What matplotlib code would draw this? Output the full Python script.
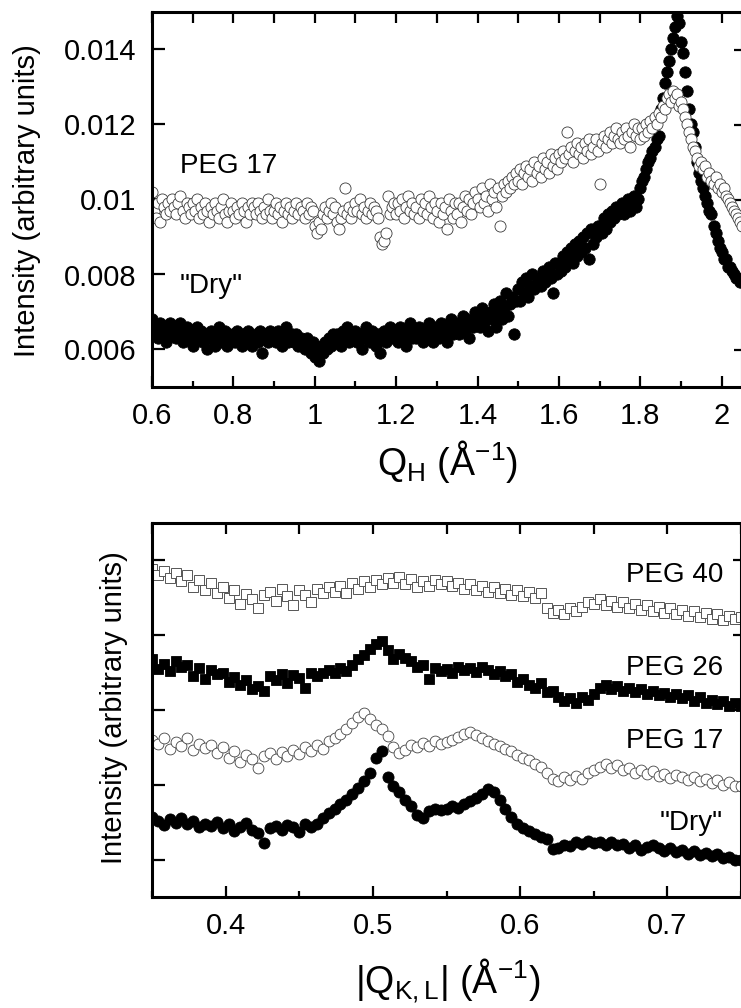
import numpy as np
import matplotlib
matplotlib.use("Agg")
import matplotlib.pyplot as plt
from matplotlib.ticker import MultipleLocator, FixedLocator, FuncFormatter, NullFormatter

plt.rcParams['font.family'] = ['Liberation Sans', 'DejaVu Sans']
plt.rcParams['mathtext.fontset'] = 'custom'
plt.rcParams['mathtext.rm'] = 'Liberation Sans'
plt.rcParams['mathtext.it'] = 'Liberation Sans:italic'

# ---- top panel data: intensity vs Q_H, step 0.005 from 0.60 to 2.05 (units of 1e-4)
dry_top = [
    68, 65, 66, 63, 67, 64, 66, 62, 65, 67,
    64, 66, 63, 65, 67, 62, 64, 66, 63, 65,
    61, 64, 66, 63, 65, 62, 64, 60, 63, 65,
    63, 61, 64, 66, 62, 63, 65, 61, 64, 62,
    64, 62, 65, 63, 61, 64, 62, 65, 63, 61,
    63, 64, 62, 65, 59, 63, 64, 62, 65, 63,
    64, 62, 65, 63, 61, 64, 66, 62, 63, 64,
    62, 64, 61, 63, 62, 60, 63, 61, 59, 62,
    58, 60, 57, 61, 59, 62, 60, 63, 61, 64,
    62, 64, 63, 61, 65, 63, 66, 62, 64, 63,
    65, 62, 64, 60, 63, 66, 64, 62, 65, 63,
    61, 64, 59, 63, 65, 62, 64, 66, 63, 65,
    64, 62, 66, 63, 65, 61, 64, 67, 63, 65,
    63, 66, 64, 62, 65, 63, 67, 64, 62, 66,
    65, 63, 67, 64, 66, 62, 65, 68, 64, 66,
    67, 64, 66, 69, 65, 68, 63, 67, 66, 70,
    68, 66, 71, 67, 69, 65, 70, 68, 72, 66,
    70, 73, 68, 71, 75, 69, 72, 74, 64, 73,
    76, 73, 78, 75, 79, 74, 77, 80, 76, 78,
    79, 77, 81, 78, 80, 82, 79, 75, 83, 80,
    83, 81, 85, 82, 86, 84, 87, 83, 88, 85,
    89, 86, 90, 87, 91, 84, 92, 88, 90, 93,
    93, 91, 95, 92, 96, 94, 97, 95, 98, 96,
    97, 99, 96, 98, 100, 97, 99, 101, 98, 100,
    103, 105, 106, 108, 110, 111, 113, 114, 116, 117,
    124, 127, 131, 134, 137, 140, 143, 146, 149, 147,
    142, 139, 134, 129, 124, 120, 118, 114, 110, 107,
    105, 103, 101, 99, 97, 96, 93, 91, 89, 87,
    86, 84, 84, 82, 82, 81, 80, 79, 79, 78,
    78,
]
peg17_top = [
    102, 97, 95, 99, 94, 100, 98, 96, 99, 97,
    100, 98, 96, 99, 101, 97, 95, 99, 98, 96,
    99, 97, 100, 95, 98, 96, 99, 97, 94, 98,
    96, 99, 97, 95, 98, 100, 96, 94, 97, 99,
    97, 95, 98, 96, 99, 97, 94, 98, 96, 99,
    98, 96, 99, 97, 95, 98, 96, 100, 97, 95,
    97, 99, 96, 98, 94, 97, 99, 96, 98, 95,
    97, 99, 96, 98, 97, 95, 99, 96, 98, 97,
    93, 91, 94, 92, 96, 98, 95, 97, 99, 96,
    98, 94, 92, 95, 97, 103, 96, 98, 95, 97,
    99, 97, 100, 96, 98, 95, 97, 99, 96, 98,
    97, 95, 90, 88, 89, 91, 101, 96, 98, 99,
    96, 99, 97, 100, 95, 98, 101, 97, 99, 96,
    98, 95, 100, 97, 99, 96, 101, 98, 95, 99,
    97, 94, 99, 96, 98, 92, 100, 97, 95, 99,
    96, 99, 94, 98, 101, 97, 100, 96, 99, 102,
    100, 98, 103, 99, 101, 97, 104, 100, 102, 98,
    103, 93, 101, 104, 102, 105, 103, 106, 104, 107,
    105, 108, 104, 107, 109, 106, 108, 105, 110, 107,
    109, 106, 111, 108, 110, 107, 112, 109, 111, 108,
    112, 110, 113, 111, 118, 112, 114, 110, 113, 115,
    112, 114, 111, 115, 113, 116, 112, 114, 116, 113,
    104, 115, 117, 114, 116, 118, 115, 117, 119, 116,
    115, 118, 116, 119, 117, 114, 118, 120, 117, 119,
    116, 119, 117, 120, 118, 121, 119, 122, 120, 123,
    122, 125, 124, 127, 128, 126, 129, 127, 128, 125,
    126, 124, 122, 120, 118, 116, 114, 113, 111, 109,
    110, 108, 109, 106, 107, 105, 104, 106, 103, 104,
    102, 103, 101, 100, 99, 98, 97, 96, 95, 94,
    93,
]
q_h = np.linspace(0.60, 2.05, len(dry_top))

# ---- bottom panel data: |Q_K,L| step 0.004 from 0.35 to 0.75 (arbitrary units, offset)
dry_bot = [
    1.07, 1.02, 0.96, 1.04, 0.99, 1.05, 0.97, 1.01, 0.93, 0.98,
    0.95, 1.00, 0.92, 0.97, 0.88, 0.94, 0.99, 0.90, 0.86, 0.72,
    0.92, 0.95, 0.89, 0.96, 0.93, 0.87, 0.97, 0.94, 0.98, 1.05,
    1.12, 1.18, 1.24, 1.30, 1.38, 1.46, 1.55, 1.66, 1.86, 1.95,
    1.60, 1.48, 1.40, 1.30, 1.22, 1.10, 1.05, 1.15, 1.17, 1.16,
    1.17, 1.21, 1.19, 1.25, 1.29, 1.32, 1.38, 1.44, 1.41, 1.30,
    1.18, 1.07, 0.98, 0.92, 0.88, 0.84, 0.80, 0.77, 0.64, 0.66,
    0.70, 0.68, 0.73, 0.71, 0.75, 0.72, 0.74, 0.70, 0.73, 0.69,
    0.71, 0.66, 0.69, 0.63, 0.67, 0.70, 0.65, 0.62, 0.66, 0.60,
    0.63, 0.58, 0.61, 0.56, 0.59, 0.55, 0.57, 0.52, 0.54, 0.50,
    0.49,
]
peg17_bot = [
    2.10, 2.04, 2.12, 1.98, 2.07, 2.02, 2.13, 1.96, 2.05, 1.99,
    2.03, 1.92, 2.00, 1.86, 1.95, 1.80, 1.90, 1.84, 1.73, 1.88,
    1.92, 1.85, 1.94, 1.89, 1.97, 1.91, 2.00, 1.95, 2.03, 1.98,
    2.08, 2.12, 2.18, 2.25, 2.32, 2.40, 2.46, 2.38, 2.30, 2.24,
    2.15, 2.00, 1.92, 1.97, 2.03, 2.00, 2.06, 2.02, 2.08, 2.04,
    2.07, 2.10, 2.14, 2.18, 2.20, 2.17, 2.12, 2.09, 2.05, 2.02,
    1.98, 1.95, 1.90, 1.86, 1.83, 1.78, 1.74, 1.66, 1.58, 1.55,
    1.60, 1.56, 1.62, 1.58, 1.66, 1.70, 1.74, 1.78, 1.72, 1.76,
    1.70, 1.73, 1.66, 1.70, 1.64, 1.68, 1.62, 1.65, 1.59, 1.63,
    1.60, 1.56, 1.61, 1.55, 1.58, 1.52, 1.56, 1.50, 1.54, 1.49,
    1.48,
]
peg26_bot = [
    3.18, 3.05, 3.12, 3.02, 3.15, 3.08, 3.10, 2.96, 3.06, 2.92,
    3.04, 2.98, 3.00, 2.88, 2.94, 2.84, 2.90, 2.78, 2.82, 2.75,
    2.96, 2.90, 2.98, 2.86, 2.97, 2.93, 2.80, 2.99, 2.95, 3.00,
    3.04, 3.00, 3.06, 3.02, 3.10, 3.18, 3.24, 3.31, 3.38, 3.42,
    3.30, 3.18, 3.25, 3.20, 3.15, 3.08, 3.10, 2.92, 3.06, 3.02,
    3.05, 3.00, 3.08, 3.03, 3.06, 3.01, 3.08, 3.04, 2.98, 3.02,
    2.95, 2.98, 2.88, 2.92, 2.84, 2.80, 2.86, 2.74, 2.76, 2.68,
    2.62, 2.66, 2.60, 2.68, 2.64, 2.72, 2.80, 2.84, 2.78, 2.82,
    2.76, 2.80, 2.74, 2.78, 2.71, 2.76, 2.70, 2.73, 2.67, 2.72,
    2.66, 2.70, 2.62, 2.67, 2.60, 2.64, 2.58, 2.62, 2.56, 2.59,
    2.55,
]
peg40_bot = [
    4.38, 4.30, 4.36, 4.26, 4.33, 4.22, 4.30, 4.15, 4.24, 4.10,
    4.20, 4.06, 4.14, 4.00, 4.10, 3.92, 4.05, 3.98, 3.86, 4.04,
    4.08, 3.96, 4.12, 4.02, 3.90, 4.10, 4.04, 3.94, 4.12, 4.06,
    4.14, 4.08, 4.16, 4.06, 4.20, 4.12, 4.22, 4.15, 4.24, 4.18,
    4.26, 4.20, 4.28, 4.18, 4.25, 4.14, 4.22, 4.16, 4.24, 4.19,
    4.22, 4.16, 4.20, 4.12, 4.18, 4.10, 4.16, 4.08, 4.14, 4.06,
    4.12, 4.04, 4.10, 4.02, 4.08, 4.00, 4.06, 3.86, 3.80, 3.84,
    3.78, 3.86, 3.82, 3.88, 3.95, 3.92, 3.98, 3.90, 3.96, 3.88,
    3.94, 3.86, 3.92, 3.84, 3.90, 3.82, 3.88, 3.80, 3.86, 3.78,
    3.84, 3.76, 3.82, 3.74, 3.80, 3.72, 3.78, 3.70, 3.76, 3.72,
    3.74,
]
q_kl = np.linspace(0.35, 0.75, len(dry_bot))

W, H = 741, 1008
fig = plt.figure(figsize=(W / 100, H / 100), dpi=100)


def px_axes(left, top, right, bottom):
    return fig.add_axes([left / W, 1 - bottom / H, (right - left) / W, (bottom - top) / H])


def style_axes(ax, top_step, ylabels=True):
    for s in ax.spines.values():
        s.set_linewidth(2.2)
    ax.tick_params(which='both', direction='in', width=1.6, top=False, right=False,
                   labelsize=21, pad=11)
    ax.tick_params(which='major', length=8)
    ax.tick_params(which='minor', length=4)
    ax.tick_params(axis='y', which='major', length=9)
    if not ylabels:
        ax.yaxis.set_major_formatter(NullFormatter())
    # top ticks, all the same length
    sx = ax.secondary_xaxis('top')
    sx.xaxis.set_major_locator(MultipleLocator(top_step))
    sx.xaxis.set_major_formatter(NullFormatter())
    sx.tick_params(direction='in', length=8, width=1.6)
    sx.spines['top'].set_visible(False)
    # right ticks
    sy = ax.secondary_yaxis('right')
    sy.yaxis.set_major_locator(FixedLocator(ax.get_yticks()))
    sy.yaxis.set_major_formatter(NullFormatter())
    sy.tick_params(direction='in', length=6, width=1.6)
    sy.spines['right'].set_visible(False)


fmt = FuncFormatter(lambda v, p: '%g' % round(v, 4))

# ---------------- top panel
ax1 = px_axes(152, 12, 742, 387)
ax1.plot(q_h, np.array(dry_top) * 1e-4, 'o', ms=8.2, mfc='black', mec='black', mew=0.6)
ax1.plot(q_h, np.array(peg17_top) * 1e-4, 'o', ms=8.0, mfc='white', mec='#3a3a3a', mew=0.6)
ax1.set_xlim(0.6, 2.05)
ax1.set_ylim(0.005, 0.015)
ax1.xaxis.set_major_locator(MultipleLocator(0.2))
ax1.xaxis.set_minor_locator(MultipleLocator(0.1))
ax1.yaxis.set_major_locator(FixedLocator([0.006, 0.008, 0.010, 0.012, 0.014]))
ax1.xaxis.set_major_formatter(fmt)
ax1.yaxis.set_major_formatter(fmt)
style_axes(ax1, 0.1)
ax1.text((180 - 152) / 590, 1 - (173 - 12) / 375, 'PEG 17', fontsize=20,
         va='baseline', transform=ax1.transAxes)
ax1.text((180 - 152) / 590, 1 - (293 - 12) / 375, '"Dry"', fontsize=20,
         va='baseline', transform=ax1.transAxes)

# ---------------- bottom panel
ax2 = px_axes(152, 523, 741, 897)
ax2.plot(q_kl, dry_bot, 'o', ms=8.0, mfc='black', mec='black', mew=0.6)
ax2.plot(q_kl, peg17_bot, 'o', ms=7.8, mfc='white', mec='#444444', mew=0.6)
ax2.plot(q_kl, peg26_bot, 's', ms=7.4, mfc='black', mec='black', mew=0.6)
ax2.plot(q_kl, peg40_bot, 's', ms=7.4, mfc='white', mec='#555555', mew=0.7)
ax2.set_xlim(0.35, 0.75)
ax2.set_ylim(0, 5)
ax2.xaxis.set_major_locator(MultipleLocator(0.1))
ax2.xaxis.set_minor_locator(MultipleLocator(0.05))
ax2.yaxis.set_major_locator(FixedLocator([0.5, 1.5, 2.5, 3.5, 4.5]))
ax2.xaxis.set_major_formatter(fmt)
style_axes(ax2, 0.05, ylabels=False)

labels_bot = ['PEG 40', 'PEG 26', 'PEG 17', '"Dry"']
baselines_bot = [582, 675, 748, 830]
for lab, b in zip(labels_bot, baselines_bot):
    ax2.text((723 - 152) / 589, 1 - (b - 523) / 374, lab, fontsize=20,
             ha='right', va='baseline', transform=ax2.transAxes)

# ---------------- axis titles
fig.text(27 / W, 1 - 201 / H, 'Intensity (arbitrary units)', rotation=90,
         fontsize=21, ha='center', va='center')
fig.text(114 / W, 1 - 708 / H, 'Intensity (arbitrary units)', rotation=90,
         fontsize=21, ha='center', va='center')
fig.text(448 / W, 1 - 475 / H, r'Q$_\mathregular{H}$ (Å$^{\mathregular{-1}}$)',
         fontsize=27, ha='center', va='baseline')
fig.text(448 / W, 1 - 993 / H, r'|Q$_\mathregular{K,L}$| (Å$^{\mathregular{-1}}$)',
         fontsize=27, ha='center', va='baseline')

fig.savefig('out.png', dpi=100)
